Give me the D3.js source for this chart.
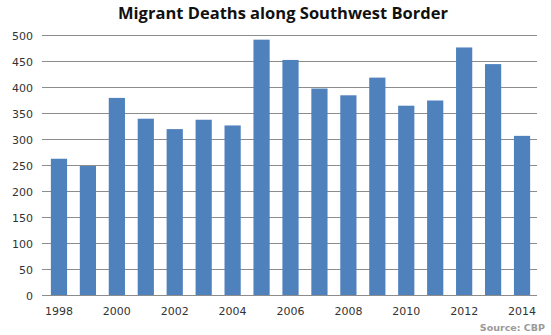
<!DOCTYPE html>
<html>
<head>
<meta charset="utf-8">
<script src="https://cdn.jsdelivr.net/npm/d3@7"></script>
<style>
  html, body { margin: 0; padding: 0; background: #fff; }
  svg { display: block; }
</style>
</head>
<body>
<svg id="chart" width="551" height="335"></svg>
<script>
// Annual migrant deaths recorded along the Southwest border
const years = ["1998","1999","2000","2001","2002","2003","2004","2005","2006",
               "2007","2008","2009","2010","2011","2012","2013","2014"];
const deaths = [263, 249, 380, 340, 320, 338, 327, 492, 453,
                398, 385, 419, 365, 375, 477, 445, 307];
const yTicks = [0, 50, 100, 150, 200, 250, 300, 350, 400, 450, 500];
const xTickLabels = ["1998","2000","2002","2004","2006","2008","2010","2012","2014"];

const svg = d3.select("#chart");
const font = "'DejaVu Sans', sans-serif";

const x = d3.scaleBand()
  .domain(years)
  .range([44.5, 536.5])
  .paddingInner(0.44)
  .paddingOuter(0.22);

const y = d3.scaleLinear()
  .domain([0, 500])
  .range([295.5, 35.5]);

// horizontal gridlines
svg.append("g")
  .selectAll("line")
  .data(yTicks.filter(d => d > 0))
  .join("line")
  .attr("x1", 42).attr("x2", 537)
  .attr("y1", d => y(d)).attr("y2", d => y(d))
  .attr("stroke", "#8c8c8c")
  .attr("stroke-width", 1);

// bars
svg.append("g")
  .selectAll("rect")
  .data(years.map((yr, i) => ({ yr, v: deaths[i] })))
  .join("rect")
  .attr("x", d => x(d.yr))
  .attr("width", x.bandwidth())
  .attr("y", d => y(d.v))
  .attr("height", d => y(0) - y(d.v))
  .attr("fill", "#4f81bd");

// y axis
const yAxis = svg.append("g")
  .attr("transform", "translate(42,0)")
  .call(d3.axisLeft(y).tickValues(yTicks).tickSize(0).tickPadding(9));
yAxis.select(".domain").remove();
yAxis.selectAll("text")
  .attr("font-family", font)
  .attr("font-size", 11)
  .attr("fill", "#333");

// x axis
const xAxis = svg.append("g")
  .attr("transform", `translate(0,${y(0)})`)
  .call(d3.axisBottom(x).tickValues(xTickLabels).tickSize(0).tickPadding(12));
xAxis.select(".domain")
  .attr("d", "M42,0H537")
  .attr("stroke", "#8c8c8c");
xAxis.selectAll("text")
  .attr("font-family", font)
  .attr("font-size", 11)
  .attr("fill", "#333");

// title
svg.append("text")
  .attr("x", 283).attr("y", 19)
  .attr("text-anchor", "middle")
  .attr("font-family", "'Open Sans', sans-serif")
  .attr("font-weight", "bold")
  .attr("font-size", 16.5)
  .attr("fill", "#111")
  .text("Migrant Deaths along Southwest Border");

// source note
svg.append("text")
  .attr("x", 545).attr("y", 331)
  .attr("text-anchor", "end")
  .attr("font-family", font)
  .attr("font-size", 9.5)
  .attr("font-weight", "bold")
  .attr("fill", "#9a9a9a")
  .text("Source: CBP");
</script>
</body>
</html>
